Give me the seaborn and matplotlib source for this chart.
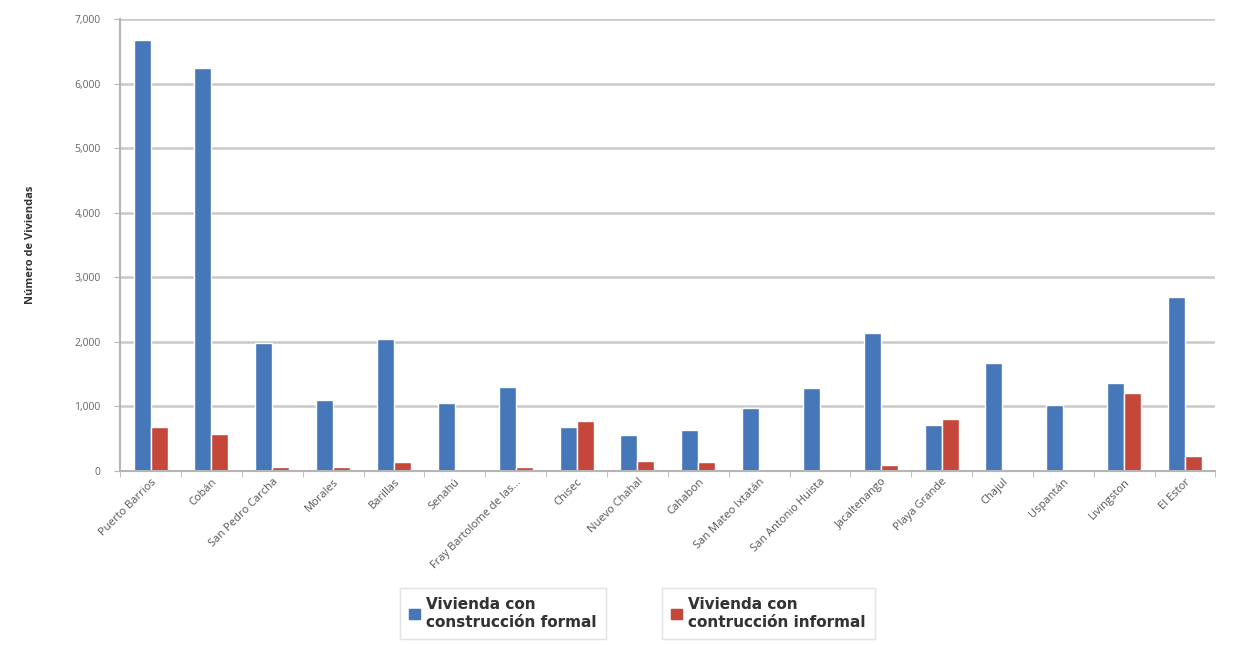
# Viviendas por municipio: construcción formal vs informal
import numpy as np
import pandas as pd
import matplotlib.pyplot as plt
import seaborn as sns
from matplotlib.ticker import FuncFormatter, FixedLocator

municipios = ['Puerto Barrios', 'Cobán', 'San Pedro Carcha', 'Morales', 'Barillas',
              'Senahú', 'Fray Bartolome de las…', 'Chisec', 'Nuevo Chahal', 'Cahabon',
              'San Mateo Ixtatán', 'San Antonio Huista', 'Jacaltenango', 'Playa Grande',
              'Chajul', 'Uspantán', 'Livingston', 'El Estor']
formal = [6680, 6240, 1980, 1100, 2040, 1050, 1295, 676, 557, 634,
          969, 1280, 2130, 716, 1665, 1016, 1356, 2690]
informal = [680, 565, 67, 67, 130, 0, 57, 773, 155, 139,
            36, 10, 97, 809, 0, 0, 1211, 232]
series = ['Vivienda con\nconstrucción formal', 'Vivienda con\ncontrucción informal']
colores = ['#4677B8', '#C4473A']

df = pd.DataFrame({
    'municipio': municipios * 2,
    'valor': formal + informal,
    'tipo': [series[0]] * len(municipios) + [series[1]] * len(municipios),
})

sns.set_style('white')
plt.rcParams['font.family'] = ['Open Sans', 'DejaVu Sans']

fig, ax = plt.subplots(figsize=(12.39, 6.45), dpi=100)
fig.subplots_adjust(left=0.097, right=0.981, bottom=0.270, top=0.970)

sns.barplot(data=df, x='municipio', y='valor', hue='tipo', palette=colores,
            width=0.56, saturation=1, ax=ax, legend=False)

ax.set_ylim(0, 7000)
ax.set_xlim(-0.5, len(municipios) - 0.5)
ax.yaxis.set_major_locator(FixedLocator(np.arange(0, 7001, 1000)))
ax.yaxis.set_major_formatter(FuncFormatter(lambda v, p: f'{int(v):,}'))
ax.grid(axis='y', color='#c9c9c9', linewidth=1.8)
ax.set_axisbelow(True)

for s in ['top', 'right']:
    ax.spines[s].set_visible(False)
for s in ['left', 'bottom']:
    ax.spines[s].set_color('#b5b5b5')
    ax.spines[s].set_linewidth(1.5)

# Excel-style tick marks between categories
ax.set_xticks(np.arange(-0.5, len(municipios), 1), minor=True)
ax.tick_params(axis='x', which='minor', length=4, color='#b5b5b5', bottom=True)
ax.tick_params(axis='x', which='major', length=0, pad=4)
ax.tick_params(axis='y', length=4, color='#b5b5b5', left=True, pad=10)

ax.set_xticks(range(len(municipios)))
ax.set_xticklabels(municipios, rotation=45, ha='right', rotation_mode='anchor',
                   fontsize=8, color='#555555')
for lbl in ax.get_yticklabels():
    lbl.set_fontsize(7.5)
    lbl.set_color('#666666')

ax.set_xlabel('')
ax.set_ylabel('Número de Viviendas', fontsize=8, fontweight='bold', color='#333333',
              labelpad=28)

# two separate legend boxes, as in the original
for i, (lab, col) in enumerate(zip(series, colores)):
    h = plt.Rectangle((0, 0), 1, 1, color=col)
    leg = fig.legend([h], [lab], loc='upper left',
                     bbox_to_anchor=((400 + i * 262) / 1239, 1 - 588 / 645),
                     frameon=True, fancybox=False, edgecolor='#e2e2e2',
                     handlelength=0.7, handleheight=0.7, handletextpad=0.4,
                     borderpad=0.6, borderaxespad=0,
                     prop={'family': 'DejaVu Sans', 'weight': 'bold', 'size': 11})
    for t in leg.get_texts():
        t.set_color('#333333')
    fig.add_artist(leg)

fig.savefig('out.png', dpi=100)
